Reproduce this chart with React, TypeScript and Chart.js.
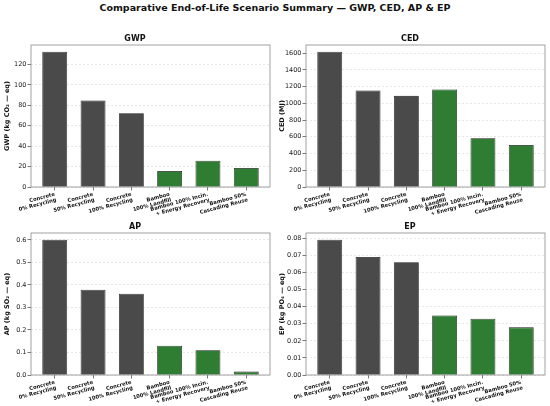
import React, { useEffect, useRef } from 'react';
import Chart from 'chart.js/auto';

// Scenario labels (one array of lines per bar)
const scenarios: string[][] = [
  ['Concrete', '0% Recycling'],
  ['Concrete', '50% Recycling'],
  ['Concrete', '100% Recycling'],
  ['Bamboo', '100% Landfill'],
  ['Bamboo 100% Incin.', '+ Energy Recovery'],
  ['Bamboo 50%', 'Cascading Reuse'],
];

const gwpValues = [132.4, 84.7, 72.3, 15.7, 25.8, 18.6];
const cedValues = [1616, 1153, 1089, 1165, 583, 503];
const apValues = [0.601, 0.379, 0.361, 0.13, 0.11, 0.015];
const epValues = [0.0792, 0.0691, 0.066, 0.0349, 0.033, 0.0279];

const CONCRETE = '#4a4a4a';
const BAMBOO = '#2e7d32';
const barColors = scenarios.map(s => (s[0].startsWith('Concrete') ? CONCRETE : BAMBOO));

const FONT = 'DejaVu Sans';

interface PanelProps {
  title: string;
  yLabel: string;
  values: number[];
  step: number;
  decimals: number;
  left: number;
  top: number;
}

const W = 275;
const H = 200;

const framePlugin = {
  id: 'frame',
  afterDatasetsDraw(chart: Chart) {
    const { ctx, chartArea } = chart;
    ctx.save();
    ctx.strokeStyle = '#8a8a8a';
    ctx.lineWidth = 0.8;
    ctx.strokeRect(chartArea.left, chartArea.top, chartArea.right - chartArea.left, chartArea.bottom - chartArea.top);
    ctx.restore();
  },
};

const Panel: React.FC<PanelProps> = ({ title, yLabel, values, step, decimals, left, top }) => {
  const canvasRef = useRef<HTMLCanvasElement>(null);

  useEffect(() => {
    if (!canvasRef.current) return;
    const yMax = Math.max(...values) * 1.05;

    const chart = new Chart(canvasRef.current, {
      type: 'bar',
      data: {
        datasets: [{
          data: values.map((v, i) => ({ x: i, y: v })),
          backgroundColor: barColors,
          borderColor: '#1a1a1a',
          borderWidth: 0.8,
          categoryPercentage: 1,
          barPercentage: 0.65,
        }],
      },
      plugins: [framePlugin],
      options: {
        responsive: false,
        animation: false,
        devicePixelRatio: 1,
        layout: { padding: { left: 0, right: 5, top: 0, bottom: 0 } },
        plugins: {
          legend: { display: false },
          tooltip: { enabled: false },
          title: {
            display: true,
            text: title,
            color: '#111',
            font: { family: FONT, size: 8, weight: 'bold', lineHeight: 1.2 },
            padding: { top: 13.9, bottom: 1.5 },
          },
        },
        scales: {
          x: {
            type: 'linear',
            offset: false,
            min: -0.62,
            max: 5.62,
            afterBuildTicks: (scale: any) => {
              scale.ticks = scenarios.map((_, i) => ({ value: i }));
            },
            afterFit: (scale: any) => {
              scale.height = H - 167;
            },
            grid: {
              offset: false,
              drawOnChartArea: false,
              drawTicks: true,
              tickLength: 3.5,
              tickColor: '#555',
              tickWidth: 0.8,
            },
            border: { display: false },
            ticks: {
              autoSkip: false,
              minRotation: 15,
              maxRotation: 15,
              padding: 1,
              color: '#111',
              font: { family: FONT, size: 5.2, weight: 'bold', lineHeight: 1.1 },
              callback: (value: any) => scenarios[Number(value)] ?? '',
            },
          },
          y: {
            min: 0,
            max: yMax,
            afterFit: (scale: any) => {
              scale.width = 31;
            },
            grid: {
              color: 'rgba(0,0,0,0.16)',
              lineWidth: 0.6,
              drawTicks: true,
              tickLength: 3.5,
              tickColor: '#555',
              tickWidth: 0.8,
              tickBorderDash: [],
            },
            border: { display: false, dash: [2, 2] },
            ticks: {
              stepSize: step,
              includeBounds: false,
              padding: 1,
              color: '#222',
              font: { family: FONT, size: 6.5 },
              callback: (value: any) => Number(value).toFixed(decimals),
            },
            title: {
              display: true,
              text: yLabel,
              color: '#111',
              padding: { top: 3, bottom: 0 },
              font: { family: FONT, size: 6.5, weight: 'bold', lineHeight: 1.2 },
            },
          },
        },
      },
    });

    return () => {
      chart.destroy();
    };
  }, [title, yLabel, values, step, decimals]);

  return (
    <canvas
      ref={canvasRef}
      width={W}
      height={H}
      style={{ position: 'absolute', left, top, width: W, height: H }}
    />
  );
};

export default function App() {
  return (
    <div
      style={{
        position: 'fixed',
        left: 0,
        top: 0,
        width: 550,
        height: 406,
        background: '#ffffff',
        overflow: 'hidden',
      }}
    >
      <div
        style={{
          position: 'absolute',
          left: 0,
          top: 2,
          width: 550,
          textAlign: 'center',
          fontFamily: FONT,
          fontWeight: 'bold',
          fontSize: 9.5,
          lineHeight: '12px',
          color: '#111',
        }}
      >
        Comparative End-of-Life Scenario Summary — GWP, CED, AP &amp; EP
      </div>
      <Panel title="GWP" yLabel="GWP (kg CO₂ — eq)" values={gwpValues} step={20} decimals={0} left={0} top={20} />
      <Panel title="CED" yLabel="CED (MJ)" values={cedValues} step={200} decimals={0} left={275} top={20} />
      <Panel title="AP" yLabel="AP (kg SO₂ — eq)" values={apValues} step={0.1} decimals={1} left={0} top={208} />
      <Panel title="EP" yLabel="EP (kg PO₄ — eq)" values={epValues} step={0.01} decimals={2} left={275} top={208} />
    </div>
  );
}
